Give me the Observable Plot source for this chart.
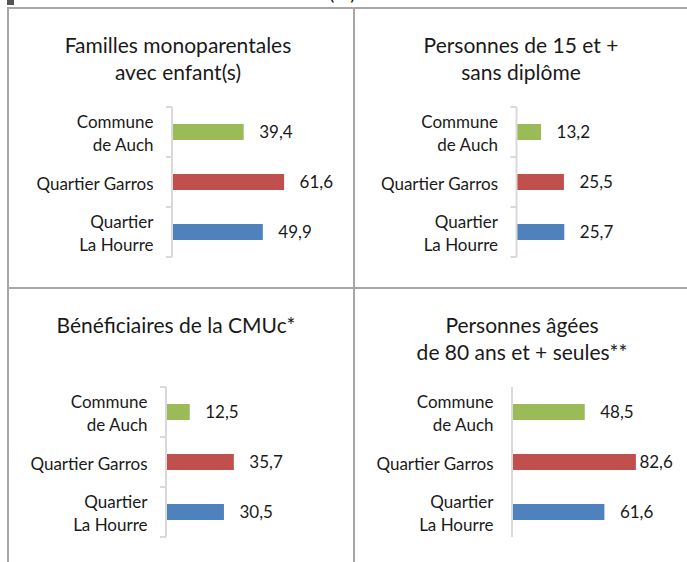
<!DOCTYPE html>
<html><head><meta charset="utf-8">
<script src="https://cdn.jsdelivr.net/npm/d3@7"></script>
<script src="https://cdn.jsdelivr.net/npm/@observablehq/plot@0.6"></script>
<style>
body{margin:0;background:#fff;}
#wrap{position:relative;width:687px;height:562px;overflow:hidden;font-family:Lato,"Open Sans",sans-serif;color:#1a1a1a;background:#fff;}
.gl{position:absolute;background:#a6a6a6;}
.title{position:absolute;text-align:center;font-size:21px;line-height:27px;white-space:pre;transform:translateX(-50%);}
.cell{position:absolute;}
.cell svg{display:block;overflow:visible;}
.top{position:absolute;font-size:20px;line-height:20px;white-space:pre;}
</style></head><body><div id="wrap"></div>
<script>
// ---- data ----
const categories = ["Commune\nde Auch", "Quartier Garros", "Quartier\nLa Hourre"];
const seriesColors = ["#9bbb59", "#c0504d", "#4f81bd"];
const titles = [
  "Familles monoparentales\navec enfant(s)",
  "Personnes de 15 et +\nsans diplôme",
  "Bénéficiaires de la CMUc*",
  "Personnes âgées\nde 80 ans et + seules**"
];
const valuesFamilles = [39.4, 61.6, 49.9];
const valuesSansDiplome = [13.2, 25.5, 25.7];
const valuesCMUc = [12.5, 35.7, 30.5];
const valuesAgees = [48.5, 82.6, 61.6];
const unitLabel = "(%)";

// ---- layout (page pixels) ----
const panels = [
  {values: valuesFamilles,    title: titles[0], cell:{x:9,  y:9,   w:344, h:278}, axisX:172,   k:1.82, yTop:106, yBot:257, ticks:true,  tx:178, ty:31, clampMax:null},
  {values: valuesSansDiplome, title: titles[1], cell:{x:355,y:9,   w:332, h:278}, axisX:516.5, k:1.86, yTop:106, yBot:257, ticks:true,  tx:521, ty:31, clampMax:null},
  {values: valuesCMUc,        title: titles[2], cell:{x:9,  y:289, w:344, h:273}, axisX:166,   k:1.90, yTop:387, yBot:537, ticks:true,  tx:176, ty:311, clampMax:null},
  {values: valuesAgees,       title: titles[3], cell:{x:355,y:289, w:332, h:273}, axisX:512,   k:1.50, yTop:387, yBot:537, ticks:false, tx:522, ty:311, clampMax:84.6}
];

const wrap = document.getElementById("wrap");
function div(cls, style, text){
  const d = document.createElement("div");
  d.className = cls;
  Object.assign(d.style, style);
  if (text != null) d.textContent = text;
  wrap.appendChild(d);
  return d;
}

// unit label, cut off at the top of the picture
div("top", {left:"329px", top:"-18px"}, unitLabel);
div("gl", {left:"7px", top:"0px", width:"7px", height:"5px", background:"#555"});

// grid lines
div("gl", {left:"7px", top:"7px", width:"680px", height:"2px"});
div("gl", {left:"7px", top:"7px", width:"2px", height:"560px"});
div("gl", {left:"353px", top:"7px", width:"2px", height:"560px"});
div("gl", {left:"7px", top:"287px", width:"680px", height:"2px"});

const fmt = v => v.toFixed(1).replace(".", ",");

function bracketAxis(withTicks){
  return (index, scales) => {
    const y = scales.y, x = scales.x;
    const starts = categories.map(c => y(c));
    const step = starts[1] - starts[0];
    const edges = [...starts, starts[starts.length - 1] + step];
    const x0 = x(0);
    const g = d3.create("svg:g");
    g.append("line")
      .attr("x1", x0).attr("x2", x0)
      .attr("y1", edges[0]).attr("y2", edges[edges.length - 1])
      .attr("stroke", "#d9d9d9").attr("stroke-width", 2);
    if (withTicks) {
      g.selectAll("line.t").data(edges).join("line").attr("class", "t")
        .attr("x1", x0 - 6).attr("x2", x0)
        .attr("y1", d => d).attr("y2", d => d)
        .attr("stroke", "#d9d9d9").attr("stroke-width", 2);
    }
    return g.node();
  };
}

for (const p of panels) {
  const {cell} = p;
  const data = categories.map((c, i) => ({cat: c, v: p.values[i], label: fmt(p.values[i])}));
  const ax = p.axisX - cell.x;
  const chart = Plot.plot({
    width: cell.w, height: cell.h,
    marginTop: 0, marginRight: 0, marginBottom: 0, marginLeft: 0,
    style: {fontFamily: "Lato, 'Open Sans', sans-serif", color: "#1a1a1a", background: "transparent", overflow: "visible"},
    x: {type: "linear", domain: [0, 100], range: [ax, ax + 100 * p.k], axis: null},
    y: {type: "band", domain: categories, range: [p.yTop - cell.y, p.yBot - cell.y], padding: 0, axis: null},
    color: {domain: categories, range: seriesColors},
    marks: [
      Plot.barX(data, {x: "v", y: "cat", fill: "cat", insetTop: 17, insetBottom: 17}),
      bracketAxis(p.ticks),
      Plot.text(data, {
        x: d => p.clampMax == null ? d.v : Math.min(d.v + 15 / p.k, p.clampMax),
        y: "cat", text: "label", textAnchor: "start", dx: p.clampMax == null ? 15 : 0,
        fontSize: 17, fill: "#1a1a1a"
      }),
      Plot.text(data, {x: 0, y: "cat", text: "cat", textAnchor: "end", dx: -19, fontSize: 17, lineHeight: 1.36, fill: "#1a1a1a"})
    ]
  });
  const holder = div("cell", {left: cell.x + "px", top: cell.y + "px", width: cell.w + "px", height: cell.h + "px"});
  holder.appendChild(chart);
  div("title", {left: p.tx + "px", top: p.ty + "px"}, p.title);
}
</script>
</body></html>
